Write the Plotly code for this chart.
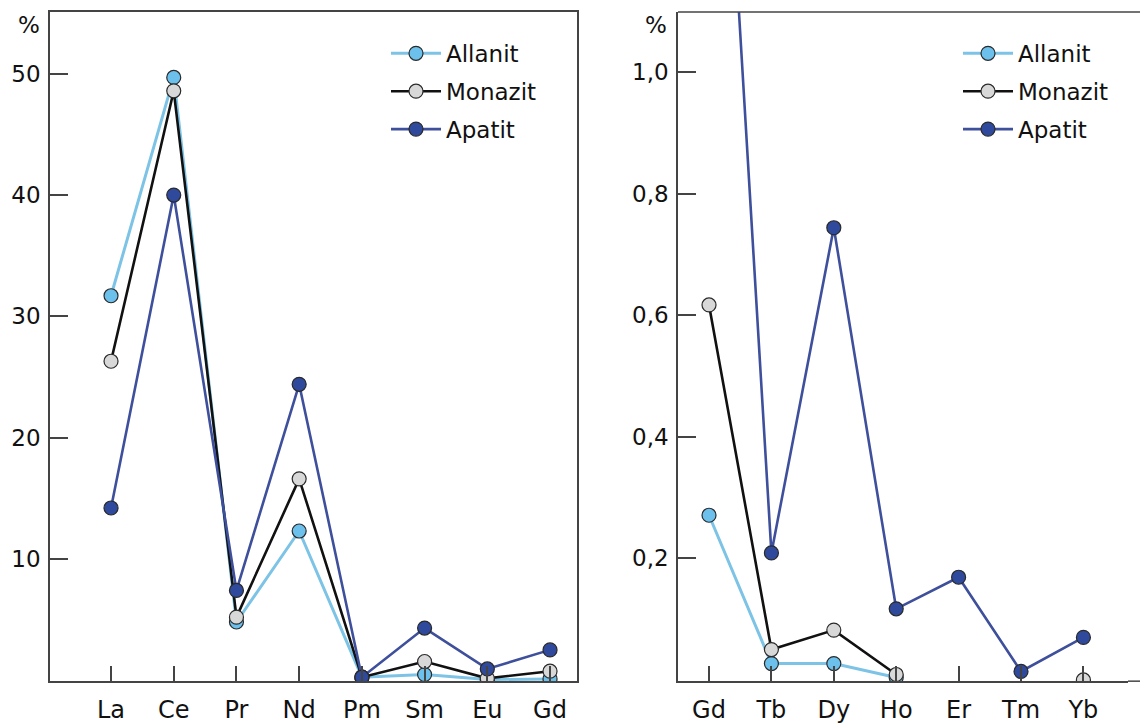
import plotly.graph_objects as go

# ---- data ----
light_elements = ["La", "Ce", "Pr", "Nd", "Pm", "Sm", "Eu", "Gd"]
allanit_light = [31.7, 49.7, 4.8, 12.3, 0.25, 0.47, 0.05, 0.1]
monazit_light = [26.3, 48.6, 5.2, 16.6, 0.25, 1.54, 0.15, 0.74]
apatit_light = [14.2, 40.0, 7.4, 24.4, 0.25, 4.3, 0.93, 2.5]

heavy_elements = ["Gd", "Tb", "Dy", "Ho", "Er", "Tm", "Yb"]
allanit_heavy = [0.271, 0.027, 0.027, 0.004, None, None, None]
monazit_heavy = [0.617, 0.050, 0.082, 0.009, None, None, 0.0]
apatit_heavy = [1.92, 0.209, 0.744, 0.117, 0.169, 0.014, 0.070]

left_ticks = [10, 20, 30, 40, 50]
left_ticktext = ["10", "20", "30", "40", "50"]
right_ticks = [0.2, 0.4, 0.6, 0.8, 1.0]
right_ticktext = ["0,2", "0,4", "0,6", "0,8", "1,0"]

series_names = ["Allanit", "Monazit", "Apatit"]
marker_colors = ["#6CC0EC", "#D8D8D8", "#2F4A9C"]
line_colors = ["#7CC3E6", "#111111", "#3E4F9C"]
line_widths = [3, 2.6, 2.6]

FONT = "DejaVu Sans, Liberation Sans, Arial, sans-serif"
W, H = 1140, 724
X2_END = 1128  # right end of the right panel's plot area (px)

fig = go.Figure()

left_data = [allanit_light, monazit_light, apatit_light]
right_data = [allanit_heavy, monazit_heavy, apatit_heavy]

for i, name in enumerate(series_names):
    fig.add_trace(go.Scatter(
        x=light_elements, y=left_data[i], name=name, mode="lines+markers",
        xaxis="x", yaxis="y", legend="legend", legendgroup="L" + name,
        line=dict(color=line_colors[i], width=line_widths[i]),
        marker=dict(size=14, color=marker_colors[i], line=dict(color="#2a2a2a", width=1.2)),
        cliponaxis=True, showlegend=True,
    ))
for i, name in enumerate(series_names):
    fig.add_trace(go.Scatter(
        x=heavy_elements, y=right_data[i], name=name, mode="lines+markers",
        xaxis="x2", yaxis="y2", legend="legend2", legendgroup="R" + name,
        line=dict(color=line_colors[i], width=line_widths[i]),
        marker=dict(size=14, color=marker_colors[i], line=dict(color="#2a2a2a", width=1.2)),
        cliponaxis=True, connectgaps=False, showlegend=True,
    ))

ydom = [1 - 684 / H, 1 - 12 / H]
axis_common = dict(showline=True, linecolor="#444444", linewidth=1.5, showgrid=False,
                   zeroline=False, ticks="inside", tickcolor="#444444", tickwidth=1.5)

fig.update_layout(
    width=W, height=H,
    margin=dict(l=0, r=0, t=0, b=0),
    paper_bgcolor="white", plot_bgcolor="white",
    font=dict(family=FONT, color="#111111"),
    xaxis=dict(domain=[50 / W, 577 / W], type="category", range=[-0.973, 7.43],
               mirror=True, ticklen=15, tickfont=dict(size=24), ticklabelstandoff=6,
               **axis_common),
    yaxis=dict(domain=ydom, range=[-0.08, 55.1], tickvals=left_ticks, ticktext=left_ticktext,
               mirror=True, ticklen=18, tickfont=dict(size=23), ticklabelstandoff=3,
               **axis_common),
    xaxis2=dict(domain=[678 / W, X2_END / W], type="category",
                range=[-0.497, -0.497 + (X2_END - 678) / 62.4], anchor="y2",
                mirror=False, ticklen=15, tickfont=dict(size=24), ticklabelstandoff=6,
                **axis_common),
    yaxis2=dict(domain=ydom, range=[-0.002, 1.099], tickvals=right_ticks, ticktext=right_ticktext,
                anchor="x2", side="left", mirror=False, ticklen=18, tickfont=dict(size=23),
                ticklabelstandoff=3, **axis_common),
    legend=dict(x=386 / W, y=1 - 32 / H, xanchor="left", yanchor="top",
                font=dict(size=23, family=FONT), bgcolor="rgba(0,0,0,0)",
                tracegroupgap=5, itemwidth=50),
    legend2=dict(x=958 / W, y=1 - 32 / H, xanchor="left", yanchor="top",
                 font=dict(size=23, family=FONT), bgcolor="rgba(0,0,0,0)",
                 tracegroupgap=5, itemwidth=50),
    shapes=[
        dict(type="line", xref="paper", yref="paper", x0=678 / W, x1=1.0,
             y0=1 - 12 / H, y1=1 - 12 / H, line=dict(color="#444444", width=1.5)),
        dict(type="line", xref="paper", yref="paper", x0=X2_END / W, x1=1.0,
             y0=1 - 684 / H, y1=1 - 684 / H, line=dict(color="#444444", width=1.5)),
    ],
    annotations=[
        dict(text="%", x=29 / W, y=1 - 25 / H, xref="paper", yref="paper",
             showarrow=False, font=dict(size=23, family=FONT), xanchor="center", yanchor="middle"),
        dict(text="%", x=656 / W, y=1 - 25 / H, xref="paper", yref="paper",
             showarrow=False, font=dict(size=23, family=FONT), xanchor="center", yanchor="middle"),
    ],
)

fig.write_html("out.html", config={"displayModeBar": False},
               post_script="document.body.style.margin='0';document.body.style.padding='0';document.body.style.overflow='hidden';")
